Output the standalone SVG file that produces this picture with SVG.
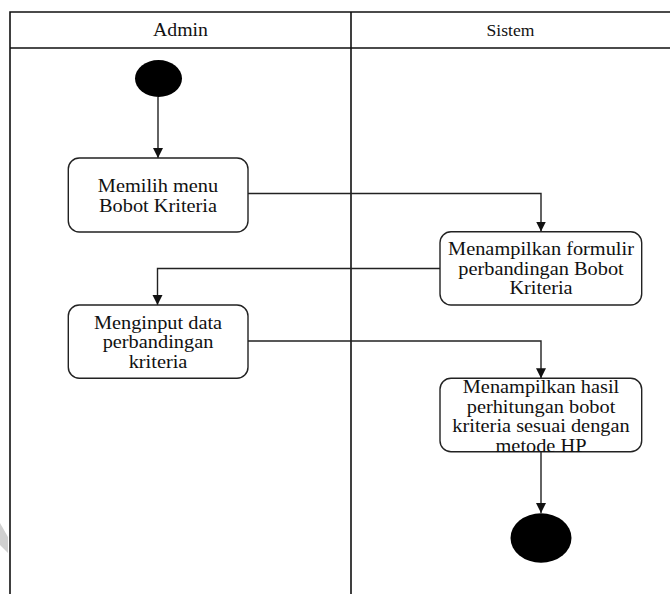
<svg xmlns="http://www.w3.org/2000/svg" width="670" height="594" viewBox="0 0 670 594">
  <style>
    .lane { fill: none; stroke: #111; stroke-width: 1.6; }
    .act { fill: #fff; stroke: #222; stroke-width: 1.4; }
    .lbl { font-family: "Liberation Serif", "Times New Roman", serif; font-size: 18.5px; fill: #111; text-anchor: middle; }
    .hdr { font-family: "Liberation Serif", "Times New Roman", serif; fill: #111; text-anchor: middle; }
    .flow { fill: none; stroke: #222; stroke-width: 1.4; marker-end: url(#arrow); }
    .node-dot { fill: #000; }
  </style>
  <defs>
    <marker id="arrow" markerUnits="userSpaceOnUse" markerWidth="11" markerHeight="11" refX="10" refY="5" orient="auto">
      <path d="M0,0 L10,5 L0,10 Z" fill="#111"/>
    </marker>
  </defs>

  <rect width="670" height="594" fill="#fff"/>

  <!-- faint mark at the left edge -->
  <polygon points="0,523 8,537 8,553 0,545" fill="#d0d0d0"/>

  <!-- swimlanes -->
  <g id="swimlanes">
    <path class="lane" d="M10,594 V12 H670 M10,48 H670 M351,12 V594"/>
    <text class="hdr" font-size="18" transform="matrix(1.1 0 0 1 180.5 0)" x="0" y="36">Admin</text>
    <text class="hdr" font-size="16" transform="matrix(1.1 0 0 1 510.5 0)" x="0" y="36">Sistem</text>
  </g>

  <!-- connectors -->
  <g id="connectors">
    <path class="flow" d="M158,97 V158"/>
    <path class="flow" d="M248,193.5 H541 V231.5"/>
    <path class="flow" d="M440,268.5 H157.5 V305"/>
    <path class="flow" d="M248,341 H541 V378.3"/>
    <path class="flow" d="M541,451.7 V513"/>
  </g>

  <g id="start">
    <ellipse class="node-dot" cx="158.5" cy="78.5" rx="23.5" ry="18.5"/>
  </g>

  <g id="memilih-menu">
    <rect class="act" x="68.3" y="158" width="179.7" height="74" rx="11"/>
    <text class="lbl" transform="matrix(1.1 0 0 1 158 0)" x="0" y="192">Memilih menu</text>
    <text class="lbl" transform="matrix(1.1 0 0 1 158 0)" x="0" y="212">Bobot Kriteria</text>
  </g>

  <g id="tampil-formulir">
    <rect class="act" x="440" y="231.7" width="201.7" height="73.3" rx="11"/>
    <text class="lbl" transform="matrix(1.1 0 0 1 541 0)" x="0" y="255">Menampilkan formulir</text>
    <text class="lbl" transform="matrix(1.1 0 0 1 541 0)" x="0" y="275">perbandingan Bobot</text>
    <text class="lbl" transform="matrix(1.1 0 0 1 541 0)" x="0" y="294.5">Kriteria</text>
  </g>

  <g id="input-data">
    <rect class="act" x="68.3" y="305" width="179.7" height="73.3" rx="11"/>
    <text class="lbl" transform="matrix(1.1 0 0 1 158 0)" x="0" y="329">Menginput data</text>
    <text class="lbl" transform="matrix(1.1 0 0 1 158 0)" x="0" y="348.5">perbandingan</text>
    <text class="lbl" transform="matrix(1.1 0 0 1 158 0)" x="0" y="368">kriteria</text>
  </g>

  <g id="tampil-hasil">
    <rect class="act" x="440" y="378.3" width="201.7" height="73.4" rx="11"/>
    <text class="lbl" transform="matrix(1.1 0 0 1 541 0)" x="0" y="393">Menampilkan hasil</text>
    <text class="lbl" transform="matrix(1.1 0 0 1 541 0)" x="0" y="413">perhitungan bobot</text>
    <text class="lbl" transform="matrix(1.1 0 0 1 541 0)" x="0" y="432.5">kriteria sesuai dengan</text>
    <text class="lbl" transform="matrix(1.1 0 0 1 541 0)" x="0" y="452">metode HP</text>
  </g>

  <g id="end">
    <ellipse class="node-dot" cx="541" cy="538" rx="30.5" ry="24.7"/>
  </g>
</svg>
